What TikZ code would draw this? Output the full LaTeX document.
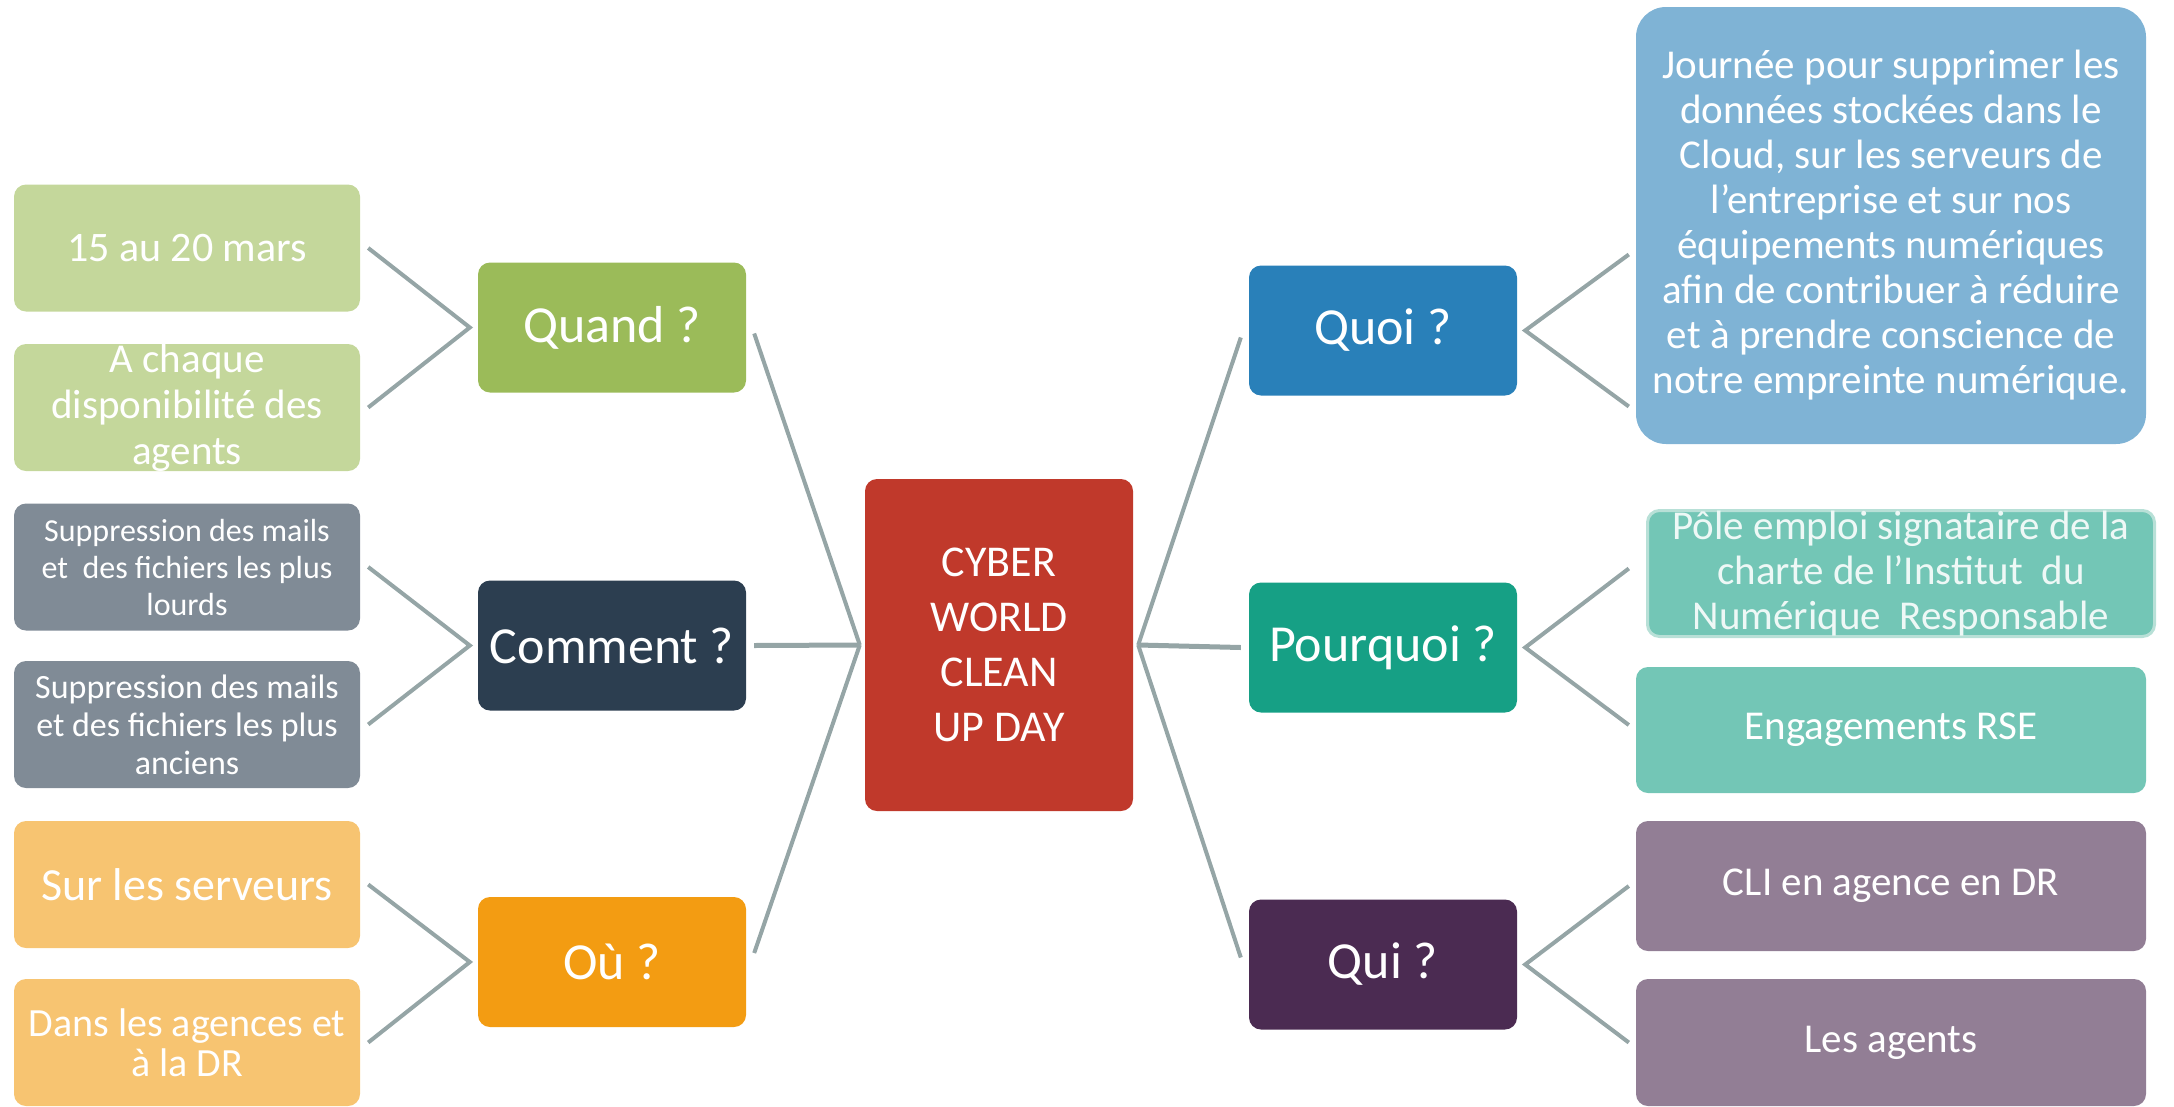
\documentclass[tikz,border=0pt]{standalone}
\usepackage{fontspec}
\setmainfont{Carlito}
\usetikzlibrary{calc}
\definecolor{lgreen}{HTML}{C4D79B}
\definecolor{dgreen}{HTML}{9BBB59}
\definecolor{navy}{HTML}{2C3E50}
\definecolor{lgray}{HTML}{808B96}
\definecolor{orng}{HTML}{F39C12}
\definecolor{lorng}{HTML}{F7C471}
\definecolor{redc}{HTML}{C0392B}
\definecolor{bluec}{HTML}{2980B9}
\definecolor{lblue}{HTML}{7FB3D5}
\definecolor{teal}{HTML}{16A085}
\definecolor{lteal}{HTML}{73C6B6}
\definecolor{bteal}{HTML}{B8E0D7}
\definecolor{purp}{HTML}{4B2B52}
\definecolor{lpurp}{HTML}{927E95}
\definecolor{linec}{HTML}{95A5A6}
\begin{document}
\begin{tikzpicture}[x=1pt,y=-1pt,
  box/.style={rounded corners=12pt, inner sep=0pt, align=center, text=white},
  leftbox/.style={box, minimum width=346pt, minimum height=127pt},
  catbox/.style={box, minimum width=268pt, minimum height=130pt, font=\fontsize{52}{56}\selectfont},
  rightbox/.style={box, minimum width=510pt, minimum height=128pt},
  txt/.style={inner sep=0pt, align=center, text=white, font=\fontsize{41}{45}\selectfont},
  link/.style={draw=linec, line width=4pt}]
\useasboundingbox (0,0) rectangle (2174,1106);

% left detail boxes
\node[leftbox, fill=lgreen] (b1) at (187,248) {};
\node[txt, font=\fontsize{42}{46}\selectfont] (b1t) at (b1.center) {15 au 20 mars};
\node[leftbox, fill=lgreen] (b2) at (187,407.5) {};
\node[txt, font=\fontsize{41}{46}\selectfont] (b2t) at (b2.center) {A chaque\\disponibilité des\\agents};
\node[leftbox, fill=lgray] (b3) at (187,567) {};
\node[txt, font=\fontsize{32}{37}\selectfont] (b3t) at (b3.center) {Suppression des mails\\et~ des fichiers les plus\\lourds};
\node[leftbox, fill=lgray] (b4) at (187,724.5) {};
\node[txt, font=\fontsize{34}{38}\selectfont] (b4t) at (b4.center) {Suppression des mails\\et des fichiers les plus\\anciens};
\node[leftbox, fill=lorng] (b5) at (187,884.5) {};
\node[txt, font=\fontsize{46}{50}\selectfont] (b5t) at (b5.center) {Sur les serveurs};
\node[leftbox, fill=lorng] (b6) at (187,1042.5) {};
\node[txt, font=\fontsize{40}{40}\selectfont] (b6t) at (b6.center) {Dans les agences et\\à la DR};

% left category boxes
\node[catbox, fill=dgreen] (quand) at (612,327.5) {Quand ?};
\node[catbox, fill=navy] (comment) at (612,645.5) {Comment ?};
\node[catbox, fill=orng] (ou) at (612,962) {Où ?};

% center
\node[box, fill=redc, minimum width=268pt, minimum height=332pt] (center) at (999,645) {};
\node[txt, font=\fontsize{44}{55}\selectfont] (centert) at (center.center) {CYBER\\WORLD\\CLEAN\\UP DAY};

% right category boxes
\node[catbox, fill=bluec] (quoi) at (1383,330.5) {Quoi ?};
\node[catbox, fill=teal] (pourquoi) at (1383,647.5) {Pourquoi ?};
\node[catbox, fill=purp] (qui) at (1383,964.5) {Qui ?};

% right detail boxes
\node[box, fill=lblue, rounded corners=30pt, minimum width=510pt, minimum height=437pt] (quoitxt) at (1891,225.5) {};
\node[txt] (quoitxtt) at (quoitxt.center) {Journée pour supprimer les\\données stockées dans le\\Cloud, sur les serveurs de\\l’entreprise et sur nos\\équipements numériques\\afin de contribuer à réduire\\et à prendre conscience de\\notre empreinte numérique.};
\node[rightbox, fill=lteal, draw=bteal, line width=3pt, minimum width=507pt, minimum height=126pt] (pole) at (1901,573.5) {};
\node[txt, text=white!88!lteal] (polet) at (pole.center) {Pôle emploi signataire de la\\charte de l’Institut\ \ du\\Numérique\ \ Responsable};
\node[rightbox, fill=lteal, minimum height=126pt] (rse) at (1891,730) {};
\node[txt] (rset) at (rse.center) {Engagements RSE};
\node[rightbox, fill=lpurp, minimum height=130pt] (cli) at (1891,886) {};
\node[txt] (clit) at (cli.center) {CLI en agence en DR};
\node[rightbox, fill=lpurp, minimum height=127pt] (agents) at (1891,1042.5) {};
\node[txt] (agentst) at (agents.center) {Les agents};

% connectors left
\draw[link] ($(b1.east)+(8,0)$) -- ($(quand.west)+(-8,0)$) -- ($(b2.east)+(8,0)$);
\draw[link] ($(b3.east)+(8,0)$) -- ($(comment.west)+(-8,0)$) -- ($(b4.east)+(8,0)$);
\draw[link] ($(b5.east)+(8,0)$) -- ($(ou.west)+(-8,0)$) -- ($(b6.east)+(8,0)$);

% connectors right
\draw[link] ($(quoitxt.west |- quoi.center)+(-7,-76)$) -- ($(quoi.east)+(8,0)$) -- ($(quoitxt.west |- quoi.center)+(-7,76)$);
\draw[link] ($(rse.west |- pole.center)+(-7,-5)$) -- ($(pourquoi.east)+(8,0)$) -- ($(rse.west)+(-7,-5)$);
\draw[link] ($(cli.west)+(-7,0)$) -- ($(qui.east)+(8,0)$) -- ($(agents.west)+(-7,0)$);

% connectors to center
\coordinate (cl) at ($(center.west)+(-5,0)$);
\coordinate (cr) at ($(center.east)+(5,0)$);
\draw[link] ($(quand.east)+(8,6)$) -- (cl);
\draw[link, line width=5pt] ($(comment.east)+(8,0)$) -- (cl);
\draw[link] ($(ou.east)+(8,-9)$) -- (cl);
\draw[link] ($(quoi.west)+(-8,7)$) -- (cr);
\draw[link, line width=5pt] ($(pourquoi.west)+(-8,0)$) -- (cr);
\draw[link] ($(qui.west)+(-8,-7)$) -- (cr);
\end{tikzpicture}
\end{document}
